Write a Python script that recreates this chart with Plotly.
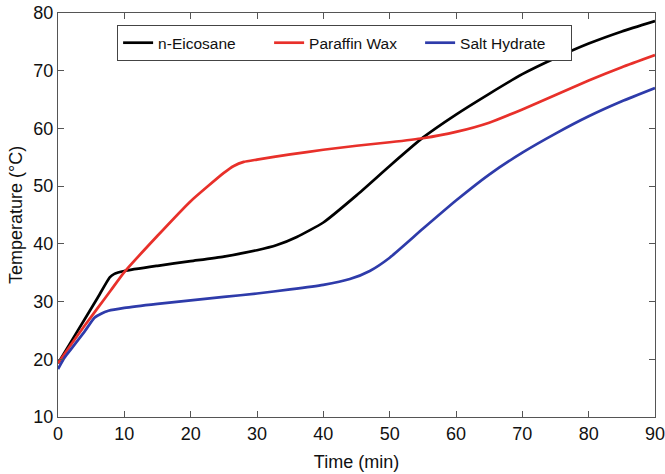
import plotly.graph_objects as go

# n-Eicosane
t_eic = [0, 2, 4, 6, 7.8, 8.5, 10, 15, 20, 25, 30, 33, 36, 40, 45, 50, 55, 60, 65, 70, 75, 80, 85, 90]
v_eic = [19.3, 23.1, 26.9, 30.7, 34.2, 34.8, 35.3, 36.2, 37.0, 37.8, 38.9, 39.8, 41.2, 43.7, 48.4, 53.5, 58.4, 62.4, 66.0, 69.4, 72.2, 74.7, 76.8, 78.6]

# Paraffin Wax
t_par = [0, 2, 4, 6, 8, 10, 15, 20, 25, 26.5, 28, 30, 35, 40, 45, 50, 55, 60, 65, 70, 75, 80, 85, 90]
v_par = [19.3, 22.6, 25.8, 28.9, 32.0, 35.1, 41.4, 47.4, 52.3, 53.5, 54.2, 54.6, 55.5, 56.3, 57.0, 57.6, 58.3, 59.4, 61.0, 63.3, 65.8, 68.3, 70.6, 72.7]

# Salt Hydrate
t_salt = [0, 1, 2, 4, 5.5, 6.5, 7.6, 10, 15, 20, 25, 30, 35, 40, 44, 47, 50, 55, 60, 65, 70, 75, 80, 85, 90]
v_salt = [18.3, 20.3, 21.8, 24.8, 27.2, 27.9, 28.4, 28.9, 29.6, 30.2, 30.8, 31.4, 32.1, 32.9, 33.9, 35.3, 37.6, 42.6, 47.5, 52.0, 55.8, 59.1, 62.1, 64.7, 67.0]

names = ["n-Eicosane", "Paraffin Wax", "Salt Hydrate"]
colors = ["#000000", "#E8302A", "#2E3BAA"]

fig = go.Figure()
for t, v, n, c in zip([t_eic, t_par, t_salt], [v_eic, v_par, v_salt], names, colors):
    fig.add_trace(go.Scatter(x=t, y=v, mode="lines", name=n,
                             line=dict(color=c, width=2.7, shape="spline", smoothing=0.5)))

FONT = "Liberation Sans, Arial"
axis_common = dict(
    showline=True, linecolor="#555555", linewidth=1.2, mirror="ticks",
    ticks="inside", ticklen=6, tickcolor="#555555", showgrid=False, zeroline=False,
    automargin=False, ticklabeloverflow="allow",
    tickfont=dict(family=FONT, size=18, color="#111111"),
)

fig.update_layout(
    width=665, height=474,
    margin=dict(l=58, r=10, t=13, b=57),
    paper_bgcolor="white", plot_bgcolor="white",
    font=dict(family=FONT, color="#111111"),
    xaxis=dict(range=[0, 90], tickvals=[0, 10, 20, 30, 40, 50, 60, 70, 80, 90],
               title=dict(text="Time (min)", font=dict(size=18), standoff=12), **axis_common),
    yaxis=dict(range=[10, 80], tickvals=[10, 20, 30, 40, 50, 60, 70, 80],
               title=dict(text="Temperature (°C)", font=dict(size=18), standoff=5), **axis_common),
    legend=dict(orientation="h", x=0.099, y=0.97, xanchor="left", yanchor="top",
                bordercolor="#444444", borderwidth=1, bgcolor="white",
                font=dict(family=FONT, size=15.5, color="#111111"),
                itemwidth=30, tracegroupgap=0, entrywidth=106, entrywidthmode="pixels"),
    showlegend=True,
)

fig.write_html("out.html", post_script="document.body.style.margin='0';",
               config={"displayModeBar": False})
